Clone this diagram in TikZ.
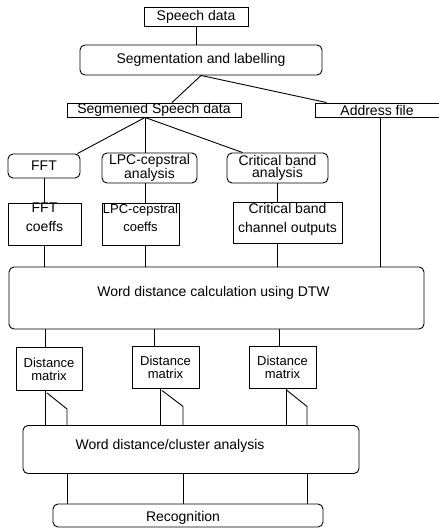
\documentclass[tikz,border=0pt]{standalone}
\usepackage{fontspec}
\setmainfont{Liberation Sans}
\usetikzlibrary{calc,positioning}
\newcommand{\fork}[5]{\path ($(#1.north)+(#2,0)$) coordinate (#1t) ($(#1.south)+(#3,0)$) coordinate (#1v) ($(#1.south)+(#5,0)$) coordinate (#1s);
\draw (#1t |- dtw.south) -- (#1t); \draw (#1v) -- (#1v |- clu.north);
\draw ($(#1.south)+(#4,2)$) -- ($(#1.south)+(#5,18)$) -- (#1s |- clu.north); \draw (#1s |- clu.south) -- (#1s |- rec.north);}

\begin{document}
\begin{tikzpicture}[x=1pt,y=-1pt,line width=.9pt,
 box/.style={draw,fill=white,inner sep=0pt,align=center,font=\fontsize{14}{12.5}\selectfont},
 rbox/.style={box,rounded corners=5pt},
 dmbox/.style={box,minimum width=67,minimum height=42,font=\fontsize{13}{13}\selectfont},
 txt/.style={inner sep=0pt,align=center,font=\fontsize{14}{18.5}\selectfont}]
\useasboundingbox (0,0) rectangle (439,528);
\node[box,minimum width=104,minimum height=19] (sp) at (196,16.5) {Speech data};
\node[rbox,minimum width=242,minimum height=30] (seg) at (201,60) {Segmentation and labelling};
\node[box,minimum width=174,minimum height=14] (ssd) at (154,110) {Segmenied Speech data};
\node[box,minimum width=124,minimum height=14] (addr) at (377,110) {Address file};
\node[rbox,minimum width=72,minimum height=24] (fft) at (44,166) {FFT};
\node[rbox,minimum width=95,minimum height=30] (lpca) at (149.5,168) {LPC-cepstral\\analysis};
\node[rbox,minimum width=101,minimum height=30] (cba) at (277.5,168) {Critical band\\analysis};
\node[box,minimum width=73,minimum height=42,label={[txt,yshift=7pt]center:FFT\\coeffs}] (fftc) at (44.5,224) {};
\node[box,minimum width=77,minimum height=42,label={[txt,yshift=6pt,font=\fontsize{13}{18.5}\selectfont]center:LPC-cepstral\\coeffs}] (lpcc) at (140.5,224) {};
\node[box,minimum width=109,minimum height=41,label={[txt,yshift=3pt]center:Critical band\\channel outputs}] (cbc) at (287.5,222.5) {};
\node[rbox,minimum width=415,minimum height=62,label={[txt,xshift=-3pt,yshift=5pt]center:Word distance calculation using DTW}] (dtw) at (216.5,298) {};
\node[dmbox,minimum width=66,minimum height=43] (dm1) at (49,369) {Distance\\matrix};
\node[dmbox] (dm2) at (165.5,367) {Distance\\matrix};
\node[dmbox] (dm3) at (282.5,367) {Distance\\matrix};
\node[rbox,minimum width=336,minimum height=48,label={[txt,xshift=-21pt,yshift=4pt]center:Word distance/cluster analysis}] (clu) at (191,449.5) {};
\node[rbox,minimum width=270,minimum height=23,label={[txt,xshift=-5pt,yshift=-2pt]center:Recognition}] (rec) at (188,515.5) {};
\coordinate (ssdb) at ($(ssd.south)+(-9,0)$);
\coordinate (addrb) at ($(addr.south)+(3,0)$);
\draw (sp.south) -- (sp.south |- seg.north);
\draw (seg.south) -- ($(ssd.north)+(18,0)$); \draw (seg.south) -- ($(addr.north west)+(12,0)$);
\draw (ssdb) -- ($(fft.north east)+(-3,0)$); \draw (ssdb) -- (ssdb |- lpca.north); \draw (ssdb) -- ($(cba.north west)+(16,0)$);
\draw (fft.south) -- (fft.south |- fftc.north); \draw (ssdb |- lpca.south) -- (ssdb |- lpcc.north); \draw (cba.south) -- (cba.south |- cbc.north);
\draw (fft.south |- fftc.south) -- (fft.south |- dtw.north); \draw (ssdb |- lpcc.south) -- (ssdb |- dtw.north);
\draw (cba.south |- cbc.south) -- (cba.south |- dtw.north); \draw (addrb) -- (addrb |- dtw.north);
\fork{dm1}{-4}{-4}{-2}{18} \fork{dm2}{-11.5}{-5.5}{-3.5}{17.5} \fork{dm3}{-3.5}{3.5}{4.5}{24.5}
\end{tikzpicture}
\end{document}
